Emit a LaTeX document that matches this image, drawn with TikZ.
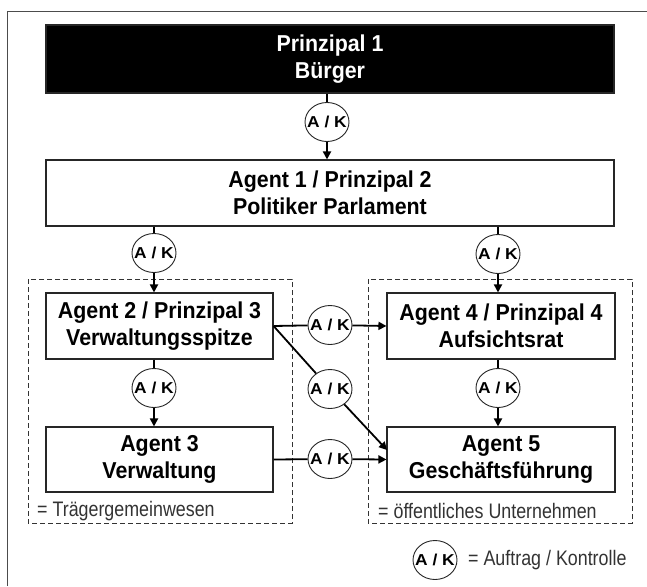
\documentclass[tikz,border=0pt]{standalone}
\usepackage{fontspec}
\setmainfont[FakeStretch=0.93]{Liberation Sans}
\newfontfamily\lblfont[FakeStretch=0.85]{Liberation Sans}
\newfontfamily\akfont[FakeStretch=1.1]{Liberation Sans}
\newcommand{\aktext}{\makebox[0pt]{A / K}}
\usetikzlibrary{shapes.geometric,arrows.meta}
\begin{document}
\begin{tikzpicture}[x=1pt,y=-1pt,
 box/.style={draw=black!85,line width=1.1pt,fill=white,align=center,
   font=\fontsize{23}{26.7}\selectfont\bfseries,inner sep=0pt},
 ak/.style={draw=black!85,line width=0.9pt,fill=white,ellipse,minimum width=44pt,
   minimum height=39pt,inner sep=0pt,font=\akfont\fontsize{15.8}{15.8}\selectfont\bfseries},
 con/.style={line width=1.8pt},
 arr/.style={con,-{Triangle[length=8pt,width=8pt]}},
 grp/.style={draw=black!80,line width=0.8pt,dash pattern=on 5pt off 3pt},
 lbl/.style={font=\lblfont\fontsize{21}{24}\selectfont,text=black!80,inner sep=0pt,anchor=west}]
\useasboundingbox (0,0) rectangle (647,586);
\fill[white] (0,0) rectangle (647,586);
\draw[black!70,line width=0.9pt] (7,586) -- (7,11) -- (647,11);

% groups
\draw[grp] (28,279) rectangle (292,523);
\draw[grp] (368,279) rectangle (632,523);
\node[lbl] (g1l) at (37,511) {= Trägergemeinwesen};
\node[lbl] (g2l) at (378,511) {= öffentliches Unternehmen};

% boxes
\node[box,fill=black,text=white,minimum width=568pt,minimum height=68pt] (p1) at (330,59) {Prinzipal 1\\Bürger};
\node[box,minimum width=568pt,minimum height=66pt] (a1) at (330,193) {Agent 1 / Prinzipal 2\\Politiker Parlament};
\node[box,minimum width=227pt,minimum height=66pt] (a2) at (159.5,326) {Agent 2 / Prinzipal 3\\Verwaltungsspitze};
\node[box,minimum width=227pt,minimum height=65pt] (a3) at (159.5,459.5) {Agent 3\\Verwaltung};
\node[box,minimum width=228pt,minimum height=66pt] (a4) at (501,326) {Agent 4 / Prinzipal 4\\Aufsichtsrat};
\node[box,minimum width=228pt,minimum height=65pt] (a5) at (501,459.5) {Agent 5\\Geschäftsführung};

% A/K circles
\node[ak] (c1) at (327,122) {\aktext};
\node[ak] (c2) at (154,253) {\aktext};
\node[ak] (c3) at (498,254) {\aktext};
\node[ak] (c4) at (154,388) {\aktext};
\node[ak] (c5) at (498,388) {\aktext};
\node[ak] (c6) at (330,325) {\aktext};
\node[ak] (c7) at (330,389) {\aktext};
\node[ak] (c8) at (330,459) {\aktext};
\coordinate (d5) at (387,450);

% connectors
\draw[con] (c1 |- p1.south) -- (c1.north);
\draw[arr] (c1.south) -- (c1 |- a1.north);
\draw[con] (c2 |- a1.south) -- (c2.north);
\draw[arr] (c2.south) -- (c2 |- a2.north);
\draw[con] (c3 |- a1.south) -- (c3.north);
\draw[arr] (c3.south) -- (c3 |- a4.north);
\draw[con] (c4 |- a2.south) -- (c4.north);
\draw[arr] (c4.south) -- (c4 |- a3.north);
\draw[con] (c5 |- a4.south) -- (c5.north);
\draw[arr] (c5.south) -- (c5 |- a5.north);
\draw[con] (a2.east) -- (c6);
\draw[arr] (c6) -- (a4.west);
\draw[con] (a2.east) -- (c7);
\draw[arr] (c7) -- (d5);
\draw[con] (a3.east) -- (c8);
\draw[arr] (c8) -- (a5.west);

% legend
\node[ak] (lg) at (435,560) {\aktext};
\node[lbl] (lt) at (468,560) {= Auftrag / Kontrolle};
\end{tikzpicture}
\end{document}
